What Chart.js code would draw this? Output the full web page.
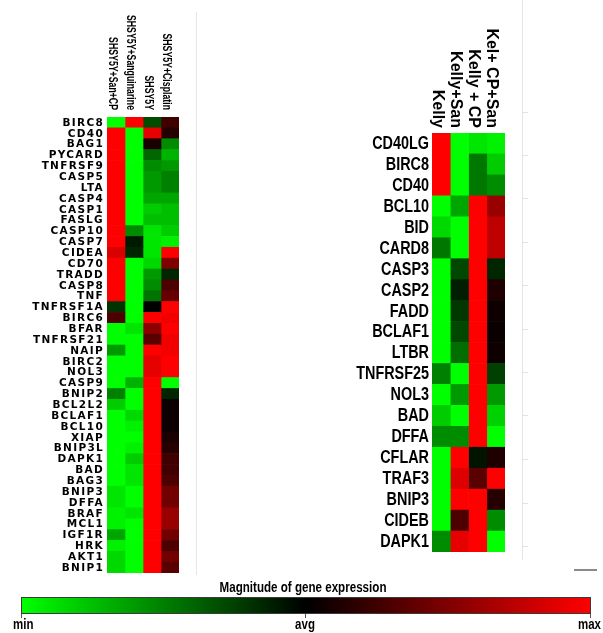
<!DOCTYPE html>
<html>
<head>
<meta charset="utf-8">
<script src="https://cdn.jsdelivr.net/npm/chart.js@4/dist/chart.umd.min.js"></script>
<style>
  html, body { margin: 0; padding: 0; background: #fff; }
  #wrap { position: relative; width: 603px; height: 633px; overflow: hidden; background: #fff; }
  canvas { position: absolute; }
  .deco { position: absolute; }
  .narrow { font-family: "Liberation Sans", Arial, sans-serif; font-weight: bold; color: #000; white-space: nowrap; }
</style>
</head>
<body>
<div id="wrap">
  <canvas id="left" width="200" height="580" style="left:0;top:0;width:200px;height:580px"></canvas>
  <canvas id="right" width="200" height="580" style="left:330px;top:0;width:200px;height:580px"></canvas>

  <div class="deco" style="left:196px;top:12px;width:1px;height:563px;background:#e6e6e6"></div>
  <div class="deco" style="left:522px;top:0;width:1px;height:560px;background:#e6e6e6"></div>
  <div id="rticks"></div>
  <div class="deco" style="left:574px;top:569px;width:23px;height:2px;background:#8a8a8a"></div>

  <div class="deco narrow" style="left:0;width:606px;top:579px;text-align:center;font-size:14.5px;line-height:16px;transform:scaleX(0.8)">Magnitude of gene expression</div>
  <div class="deco" style="left:21px;top:597px;width:570px;height:17px;box-sizing:border-box;border:1px solid #3a3a3a;background:linear-gradient(to right,#00ff00 0%,#000000 50%,#ff0000 100%)"></div>
  <div class="deco" style="left:21px;top:614px;width:1px;height:4px;background:#555"></div>
  <div class="deco" style="left:305px;top:614px;width:1px;height:4px;background:#555"></div>
  <div class="deco" style="left:590px;top:614px;width:1px;height:4px;background:#555"></div>
  <div class="deco narrow" style="left:13px;top:617px;font-size:14px;line-height:15px;transform:scaleX(0.82);transform-origin:left top">min</div>
  <div class="deco narrow" style="left:255px;width:100px;top:617px;text-align:center;font-size:14px;line-height:15px;transform:scaleX(0.82)">avg</div>
  <div class="deco narrow" style="left:501px;width:100px;top:617px;text-align:right;font-size:14px;line-height:15px;transform:scaleX(0.82);transform-origin:right top">max</div>
</div>
<script>
// ---------- Left panel (SH-SY5Y) ----------
const leftGenes = ['BIRC8','CD40','BAG1','PYCARD','TNFRSF9','CASP5','LTA','CASP4','CASP1','FASLG',
  'CASP10','CASP7','CIDEA','CD70','TRADD','CASP8','TNF','TNFRSF1A','BIRC6','BFAR',
  'TNFRSF21','NAIP','BIRC2','NOL3','CASP9','BNIP2','BCL2L2','BCLAF1','BCL10','XIAP',
  'BNIP3L','DAPK1','BAD','BAG3','BNIP3','DFFA','BRAF','MCL1','IGF1R','HRK','AKT1','BNIP1'];
const leftColumns = ['SHSY5Y+San+CP','SHSY5Y+Sanguinarine','SHSY5Y','SHSY5Y+Cisplatin'];
// values on a -1 (min, green) .. 0 (avg, black) .. 1 (max, red) scale
const leftSanCP = [-1,1,1,1,1,1,1,1,1,1,
  1,1,0.85,1,1,1,1,-0.2,0.3,-1,
  -1,-0.6,-1,-1,-1,-0.5,-0.8,-1,-1,-1,
  -1,-1,-1,-1,-0.9,-0.9,-0.95,-0.95,-0.65,-0.95,-0.85,-0.85];
const leftSan = [1,-1,-1,-1,-1,-1,-1,-1,-1,-1,
  -0.55,-0.1,-0.15,-1,-1,-1,-1,-1,-1,-0.9,
  -1,-1,-1,-1,-0.7,-1,-1,-0.85,-0.95,-1,
  -0.95,-0.8,-0.9,-0.9,-1,-1,-0.9,-1,-1,-1,-1,-1];
const leftCtrl = [-0.3,0.9,0.1,-0.4,-0.55,-0.6,-0.6,-0.65,-0.8,-0.75,
  -0.9,-0.9,-0.9,-0.85,-0.6,-0.55,-0.45,0.0,1,0.55,
  0.35,1,0.9,0.9,1,1,1,1,1,1,
  1,1,1,1,1,1,1,1,1,1,1,1];
const leftCis = [0.25,0.15,-0.55,-0.7,-0.6,-0.5,-0.5,-0.65,-0.75,-0.75,
  -0.8,-0.95,1,0.5,-0.15,0.3,0.4,1,0.95,1,
  0.95,0.95,1,1,-1,-0.15,0.05,0.05,0.05,0.1,
  0.15,0.25,0.25,0.3,0.45,0.45,0.6,0.6,0.45,0.3,0.45,0.35];

// ---------- Right panel (Kelly) ----------
const rightGenes = ['CD40LG','BIRC8','CD40','BCL10','BID','CARD8','CASP3','CASP2','FADD','BCLAF1',
  'LTBR','TNFRSF25','NOL3','BAD','DFFA','CFLAR','TRAF3','BNIP3','CIDEB','DAPK1'];
const rightColumns = ['Kelly','Kelly+San','Kelly + CP','Kel+ CP+San'];
const rightKelly = [1,1,1,-1,-0.85,-0.47,-1,-1,-1,-1,
  -1,-0.5,-1,-0.8,-0.55,-1,-1,-1,-1,-0.55];
const rightSan = [-1,-1,-1,-0.65,-1,-1,-0.28,-0.12,-0.22,-0.28,
  -0.43,-1,-0.6,-1,-0.55,1,0.87,1,0.3,0.9];
const rightCP = [-0.9,-0.47,-0.47,1,1,1,1,1,1,1,
  1,1,1,1,1,-0.08,0.35,1,1,1];
const rightCPSan = [-0.95,-0.8,-0.55,0.6,0.75,0.75,-0.15,0.12,0.06,0.04,
  0.06,-0.25,-0.6,-0.82,-1,0.12,1,0.15,-0.55,-1];

function colorFor(v) {
  if (v < 0) return 'rgb(0,' + Math.round(255 * -v) + ',0)';
  return 'rgb(' + Math.round(255 * v) + ',0,0)';
}

// column headers, rotated clockwise, drawn at the x-scale column centres
const colLabelPlugin = {
  id: 'colLabels',
  afterDraw(chart, args, opts) {
    const { ctx, chartArea } = chart;
    const xs = chart.scales.x;
    ctx.save();
    ctx.letterSpacing = '0px';
    ctx.font = opts.font;
    ctx.fillStyle = '#000';
    opts.labels.forEach((lab, i) => {
      const px = xs.getPixelForValue(i + 0.5) + opts.dx;
      ctx.save();
      ctx.translate(px, chartArea.top - opts.gap);
      ctx.rotate(Math.PI / 2);
      ctx.scale(opts.squeeze, 1);
      ctx.textAlign = 'right';
      ctx.textBaseline = 'middle';
      ctx.fillText(lab, 0, 0);
      ctx.restore();
    });
    ctx.restore();
  }
};

// row (gene) labels, drawn at the y-scale category centres
const rowLabelPlugin = {
  id: 'rowLabels',
  afterDraw(chart, args, opts) {
    const { ctx, chartArea } = chart;
    const ys = chart.scales.y;
    ctx.save();
    ctx.letterSpacing = opts.spacing;
    ctx.font = opts.font;
    ctx.fillStyle = '#000';
    chart.data.labels.forEach((lab, i) => {
      const py = ys.getPixelForValue(i) + opts.dy;
      ctx.save();
      ctx.translate(chartArea.left - opts.pad, py);
      ctx.scale(opts.squeeze, 1);
      ctx.textAlign = 'right';
      ctx.textBaseline = 'middle';
      ctx.fillText(lab, 0, 0);
      ctx.restore();
    });
    ctx.letterSpacing = '0px';
    ctx.restore();
  }
};

function makeHeatmap(canvasId, genes, columns, series, cfg) {
  const datasets = series.map((vals, c) => ({
    label: columns[c],
    data: genes.map(() => [c, c + 1]),
    backgroundColor: vals.map(colorFor),
    borderWidth: 0,
    grouped: false,
    barPercentage: 1,
    categoryPercentage: 1
  }));
  return new Chart(document.getElementById(canvasId), {
    type: 'bar',
    data: { labels: genes, datasets },
    plugins: [colLabelPlugin, rowLabelPlugin],
    options: {
      indexAxis: 'y',
      responsive: false,
      animation: false,
      events: [],
      layout: { padding: cfg.padding },
      plugins: {
        legend: { display: false },
        tooltip: { enabled: false },
        colLabels: { labels: columns, font: cfg.colFont, dx: cfg.colDx, gap: cfg.colGap, squeeze: cfg.colSqueeze },
        rowLabels: { font: cfg.rowFont, pad: cfg.rowPad, spacing: cfg.rowSpacing, squeeze: cfg.rowSqueeze, dy: cfg.rowDy }
      },
      scales: {
        x: { type: 'linear', min: 0, max: columns.length, display: false },
        y: { type: 'category', display: false }
      }
    }
  });
}

makeHeatmap('left', leftGenes, leftColumns, [leftSanCP, leftSan, leftCtrl, leftCis], {
  padding: { left: 107, top: 117, right: 21, bottom: 7 },
  rowFont: 'bold 10.5px "DejaVu Sans", Verdana, sans-serif',
  rowSpacing: '1.3px',
  rowSqueeze: 1,
  rowPad: 3,
  rowDy: 0.5,
  colFont: 'bold 12.5px "Liberation Sans", Arial, sans-serif',
  colSqueeze: 0.7,
  colDx: -4,
  colGap: 7
});

makeHeatmap('right', rightGenes, rightColumns, [rightKelly, rightSan, rightCP, rightCPSan], {
  padding: { left: 102, top: 133, right: 25, bottom: 28 },
  rowFont: 'bold 18px "Liberation Sans", Arial, sans-serif',
  rowSpacing: '0px',
  rowSqueeze: 0.8,
  rowPad: 3,
  rowDy: 0.5,
  colFont: 'bold 16px "Liberation Sans", Arial, sans-serif',
  colSqueeze: 1,
  colDx: -4,
  colGap: 5
});

// decorative ticks on the faint right-hand rule
const rtickYs = [112,155,198,242,285,329,372,415,459,503,546];
const rt = document.getElementById('rticks');
rtickYs.forEach(y => {
  const d = document.createElement('div');
  d.className = 'deco';
  d.style.cssText = 'left:523px;top:' + y + 'px;width:5px;height:1px;background:#e2e2e2';
  rt.appendChild(d);
});
</script>
</body>
</html>
